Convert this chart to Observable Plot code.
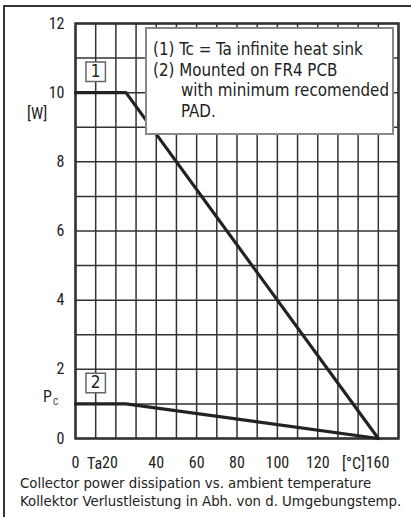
<!DOCTYPE html>
<html>
<head>
<meta charset="utf-8">
<script src="https://cdn.jsdelivr.net/npm/d3@7"></script>
<script src="https://cdn.jsdelivr.net/npm/@observablehq/plot@0.6"></script>
<style>
  body { margin: 0; background: white; }
  #wrap { position: relative; width: 411px; height: 517px; overflow: hidden; font-family: "DejaVu Sans Condensed", "DejaVu Sans", sans-serif; color: #222; }
  #border { position: absolute; left: 3px; top: 5px; width: 410px; height: 515px; border-top: 2px solid #333; border-left: 2px solid #333; }
  #chart { position: absolute; left: 0; top: 0; }
  .ov { position: absolute; font-family: "Roboto Condensed", sans-serif; font-size: 16px; line-height: 1; white-space: nowrap; }
  #legend { position: absolute; left: 145px; top: 27px; width: 249px; height: 108px; box-sizing: border-box; border: 2px solid #888; background: white; padding: 10px 0 0 6px; font-size: 16.8px; line-height: 20.5px; white-space: nowrap; }
  #legend .ind { padding-left: 28px; }
  #caption { position: absolute; left: 20px; top: 474px; font-size: 14.8px; line-height: 18px; white-space: nowrap; }
</style>
</head>
<body>
<div id="wrap">
  <div id="border"></div>
  <div id="chart"></div>
  <div class="ov" style="left:27px; top:106px;">[W]</div>
  <div class="ov" style="left:43px; top:389px;">P<span style="font-size:9px; position:relative; top:3px; left:1px;">C</span></div>
  <div class="ov" style="left:87px; top:456px;">Ta</div>
  <div class="ov" style="left:342px; top:456px;">[°C]</div>
  <div id="legend">
    <div>(1) Tc = Ta infinite heat sink</div>
    <div>(2) Mounted on FR4 PCB</div>
    <div class="ind">with minimum recomended</div>
    <div class="ind">PAD.</div>
  </div>
  <div id="caption">
    <div>Collector power dissipation vs. ambient temperature</div>
    <div>Kollektor Verlustleistung in Abh. von d. Umgebungstemp.</div>
  </div>
</div>
<script>
// Data
const temps = [0, 25, 150];                 // ambient temperature [°C]
const power1 = [10, 10, 0];                 // (1) Tc = Ta infinite heat sink [W]
const power2 = [1, 1, 0];                   // (2) Mounted on FR4 PCB [W]
const seriesNames = ["1", "2"];
const labelTemp = 10;                       // where the series tag sits
const xGrid = [0, 10, 20, 30, 40, 50, 60, 70, 80, 90, 100, 110, 120, 130, 140, 150, 160];
const yGrid = [0, 1, 2, 3, 4, 5, 6, 7, 8, 9, 10, 11, 12];
const yTicks = [0, 2, 4, 6, 8, 10, 12];
const xTicks = [0, 40, 60, 80, 100, 120];
const xTick20 = [20];
const xTick160 = [160];

const series = [power1, power2].map((p, i) => temps.map((t, j) => ({series: seriesNames[i], temp: t, power: p[j]})));
const rows = series.flat();
const tags = series.map((s, i) => {
  const f = d3.scaleLinear().domain(s.map(d => d.temp)).range(s.map(d => d.power));
  return {name: seriesNames[i], temp: labelTemp, power: f(labelTemp)};
});

const font = '"Roboto Condensed", sans-serif';
const chart = Plot.plot({
  width: 411,
  height: 472,
  marginLeft: 75,
  marginRight: 13,
  marginTop: 23,
  marginBottom: 34,
  x: {domain: [0, 160]},
  y: {domain: [0, 12]},
  style: {fontFamily: font, fontSize: "16px", color: "#222", background: "transparent", overflow: "visible"},
  marks: [
    Plot.gridX(xGrid, {stroke: "#333", strokeOpacity: 1, strokeWidth: 1.5}),
    Plot.gridY(yGrid, {stroke: "#333", strokeOpacity: 1, strokeWidth: 1.5}),
    Plot.frame({stroke: "#333", strokeWidth: 2.5}),
    Plot.line(rows, {x: "temp", y: "power", z: "series", stroke: "#222", strokeWidth: 3.2}),
    Plot.dot(tags, {x: "temp", y: "power", symbol: "square", r: 11, fill: "white", stroke: "#666", strokeWidth: 1.5, dy: -21}),
    Plot.text(tags, {x: "temp", y: "power", text: "name", dy: -21, fontSize: 17, fontFamily: '"DejaVu Sans Condensed", sans-serif', fill: "#222"}),
    Plot.axisY(yTicks, {tickSize: 0, tickPadding: 11, label: null, fontSize: 16}),
    Plot.axisX(xTicks, {tickSize: 0, tickPadding: 18, label: null, fontSize: 16}),
    Plot.axisX(xTick20, {tickSize: 0, tickPadding: 18, label: null, fontSize: 16, dx: -6}),
    Plot.axisX(xTick160, {tickSize: 0, tickPadding: 18, label: null, fontSize: 16, dx: -21})
  ]
});
document.getElementById("chart").appendChild(chart);
</script>
</body>
</html>
